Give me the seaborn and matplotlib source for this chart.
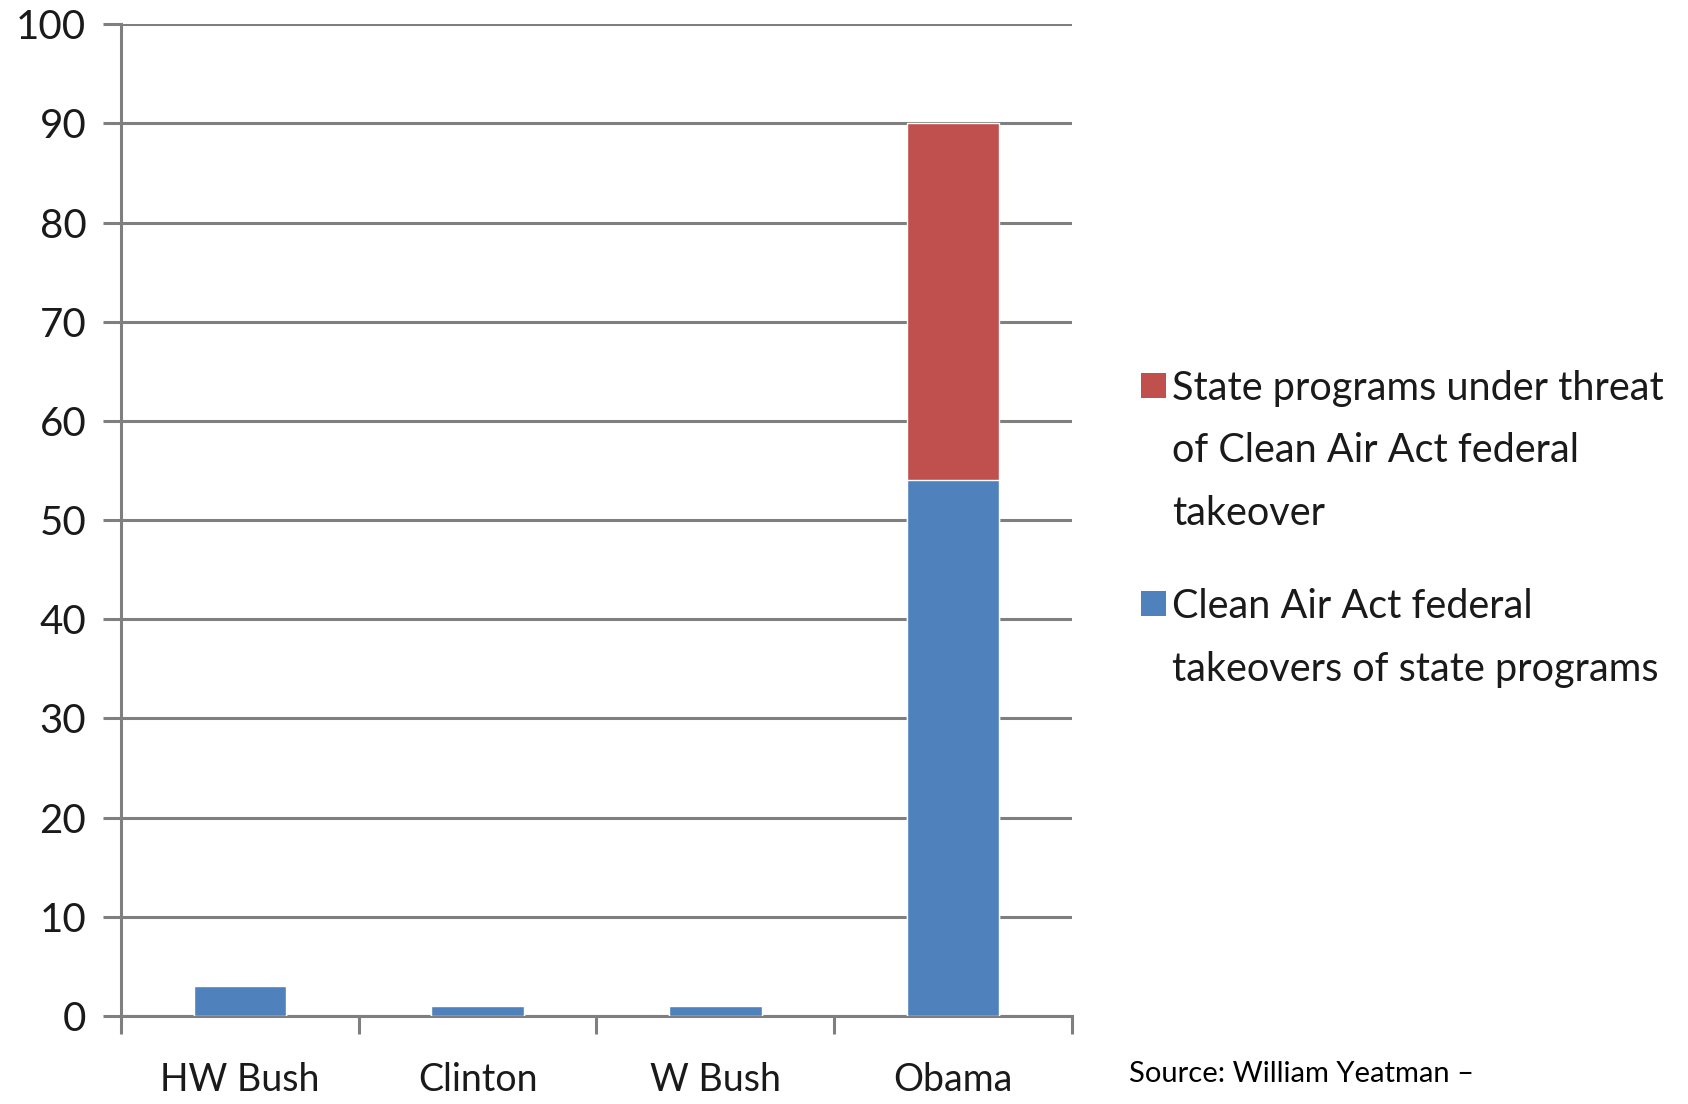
import matplotlib
matplotlib.use("Agg")
import matplotlib.pyplot as plt
import matplotlib.patches as mpatches
import numpy as np
import pandas as pd
import seaborn as sns

# data
presidents = ["HW Bush", "Clinton", "W Bush", "Obama"]
takeovers = [3, 1, 1, 54]          # Clean Air Act federal takeovers of state programs
under_threat = [0, 0, 0, 36]       # State programs under threat of takeover
y_ticks = [0, 10, 20, 30, 40, 50, 60, 70, 80, 90, 100]

label_threat = "State programs under threat\nof Clean Air Act federal\ntakeover"
label_takeover = "Clean Air Act federal\ntakeovers of state programs"
source_note = "Source: William Yeatman \u2013"

BLUE = "#4F81BD"
RED = "#C0504D"
GRID = "#7f7f7f"

df = pd.DataFrame({
    "President": presidents,
    "Takeovers": takeovers,
    "Total": np.array(takeovers) + np.array(under_threat),
})

sns.set_theme(style="white")
plt.rcParams["font.family"] = ["Lato", "DejaVu Sans"]

fig = plt.figure(figsize=(16.88, 11.04), dpi=100)
ax = fig.add_axes([0.0717, 0.0797, 0.5633, 0.8983])

# stacked bars: total in red, takeovers drawn over it in blue
sns.barplot(data=df, x="President", y="Total", color=RED, width=0.39,
            saturation=1, ax=ax, zorder=3)
sns.barplot(data=df, x="President", y="Takeovers", color=BLUE, width=0.39,
            saturation=1, ax=ax, zorder=4)

ax.set_xlim(-0.5, len(presidents) - 0.5)
ax.set_ylim(0, 100)
ax.set_yticks(y_ticks)
ax.yaxis.grid(True, color=GRID, linewidth=2.2, zorder=0)
ax.set_axisbelow(True)

for side in ["top", "right"]:
    ax.spines[side].set_visible(False)
ax.spines["left"].set_color(GRID)
ax.spines["left"].set_linewidth(2.2)
ax.spines["bottom"].set_color(GRID)
ax.spines["bottom"].set_linewidth(2.2)

ax.tick_params(axis="y", which="major", direction="out", length=13, width=2.2,
               color=GRID, labelsize=29, pad=12, left=True)
ax.tick_params(axis="x", which="major", length=0, labelsize=27, pad=33)
ax.set_xticks(np.arange(-0.5, len(presidents), 1.0), minor=True)
ax.tick_params(axis="x", which="minor", direction="out", length=13, width=2.2,
               color=GRID, bottom=True)
ax.set_xlabel("")
ax.set_ylabel("")
for lbl in ax.get_xticklabels() + ax.get_yticklabels():
    lbl.set_color("#1a1a1a")

# legend drawn as figure text, swatch centred on the first line of each label
legend_items = [(RED, label_threat, 0.651), (BLUE, label_takeover, 0.453)]
sw_w, sw_h = 0.0148, 0.0226
for color, text, yline in legend_items:
    fig.patches.append(mpatches.Rectangle((0.676, yline - sw_h / 2), sw_w, sw_h,
                                          transform=fig.transFigure,
                                          facecolor=color, edgecolor="none"))
    fig.text(0.6945, yline + 0.0143, text, fontsize=28.5, color="#1a1a1a",
             va="top", ha="left", linespacing=1.86)

fig.text(0.669, 0.027, source_note, fontsize=21, color="black",
         va="center", ha="left")

fig.savefig("out.png", dpi=100, facecolor="white")
